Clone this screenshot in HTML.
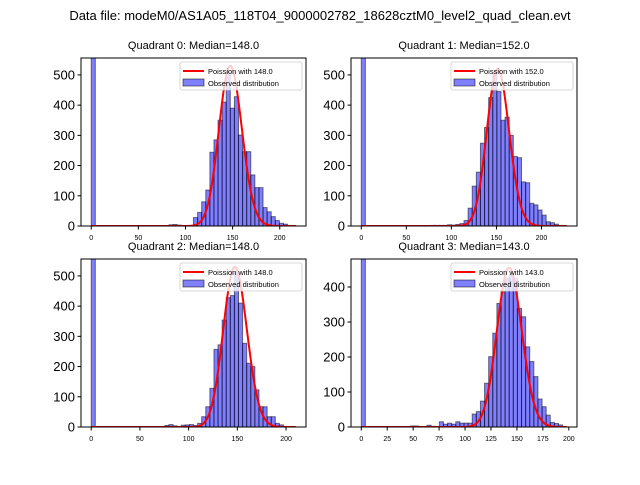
<!DOCTYPE html>
<html><head><meta charset="utf-8"><style>
body{margin:0;background:#fff;}
svg text{font-family:"Liberation Sans","DejaVu Sans",sans-serif;}
</style></head><body>
<svg id="fig" width="640" height="480" xmlns="http://www.w3.org/2000/svg">
<rect width="640" height="480" fill="#fff"/>
<text x="320" y="20" font-size="13" text-anchor="middle">Data file: modeM0/AS1A05_118T04_9000002782_18628cztM0_level2_quad_clean.evt</text>
</svg>
<script>
const quadNames = ["Quadrant 0","Quadrant 1","Quadrant 2","Quadrant 3"];
const medians = [148.0, 152.0, 148.0, 143.0];
const maxValues = [217, 228, 210, 198];
const curvePeaks = [530, 520, 530, 455];
const yTickVals01 = [0,100,200,300,400,500];
const yTickVals3 = [0,100,200,300,400];
const xTickVals = [0,50,100,150,200];
const xTickVals3 = [0,25,50,75,100,125,150,175,200];
const counts0 = [2000,0,0,0,0,0,0,0,0,0,0,0,0,0,0,0,0,0,0,4,5,3,0,0,0,28,45,80,119,244,285,350,410,510,390,428,301,246,246,169,127,127,61,47,31,18,9,6,2,1];
const counts1 = [2000,0,0,0,0,0,0,0,0,0,0,0,0,0,0,0,0,2,2,2,2,4,3,5,8,18,59,132,178,274,326,425,510,445,350,360,300,230,226,146,143,75,70,53,36,14,11,6,2,1];
const counts2 = [2000,0,0,0,0,0,0,0,0,0,0,0,0,0,0,0,0,0,5,8,4,0,6,7,8,5,12,34,67,128,257,272,354,428,435,515,410,277,211,200,123,67,67,34,34,12,7,1,0,0];
const counts3 = [2000,0,0,0,0,0,0,0,0,0,0,0,3,3,0,0,5,2,1,15,8,11,8,15,11,11,11,37,44,74,125,201,268,353,386,425,434,425,339,315,229,187,144,80,58,34,13,10,6,1];
const allCounts = [counts0, counts1, counts2, counts3];

const axBoxes = [[81,58,306,226],[351,58,577,226],[81,259,306,427],[351,259,577,427]];
const yMaxes = [556,556,556,480];
const NS = "http://www.w3.org/2000/svg";
const fig = document.getElementById('fig');
function mk(tag, attrs, parent){const e=document.createElementNS(NS,tag);for(const k in attrs)e.setAttribute(k,attrs[k]);(parent||fig).appendChild(e);return e;}

for(let q=0;q<4;q++){
  const [x0,y0,x1,y1]=axBoxes[q];
  const mx=maxValues[q], span=mx, xmin=-0.05*span, xmax=mx+0.05*span;
  const X=v=>x0+(v-xmin)/(xmax-xmin)*(x1-x0);
  const Y=v=>y1-v/yMaxes[q]*(y1-y0);
  const g=mk('g',{});
  
  
  const cp=mk('clipPath',{id:'cp'+q},g);
  mk('rect',{x:x0,y:y0,width:x1-x0,height:y1-y0},cp);
  const bars=mk('g',{'clip-path':'url(#cp'+q+')'},g);
  const counts=allCounts[q], bw=mx/counts.length;
  counts.forEach((c,i)=>{
    if(c<=0)return;
    const r=mk('rect',{x:X(i*bw),y:Y(c),width:X((i+1)*bw)-X(i*bw),height:Y(0)-Y(c),fill:'rgba(0,0,255,0.5)',stroke:'rgba(0,0,0,0.5)','stroke-width':1},bars);
    
    
  });
  // poisson curve
  const lam=medians[q], peak=curvePeaks[q];
  let pts=[];
  for(let k=0;k<=mx;k++){
    const lp=k*Math.log(lam)-lam-lgamma(k+1);
    const lp0=lam*Math.log(lam)-lam-lgamma(lam+1);
    pts.push(X(k).toFixed(2)+','+Y(peak*Math.exp(lp-lp0)).toFixed(2));
  }
  const pl=mk('polyline',{points:pts.join(' '),fill:'none',stroke:'#ff0000','stroke-width':2},bars);
  
  
  mk('rect',{x:x0,y:y0,width:x1-x0,height:y1-y0,fill:'none',stroke:'#000','stroke-width':1},g);
  const t=mk('text',{x:(x0+x1)/2,y:y0-9,'font-size':11,'text-anchor':'middle'},g);
  t.textContent=quadNames[q]+': Median='+medians[q].toFixed(1);
  
  
  const yt = q===3?yTickVals3:yTickVals01;
  yt.forEach(v=>{
    mk('line',{x1:x0-3.5,x2:x0,y1:Y(v),y2:Y(v),stroke:'#000'},g);
    const tt=mk('text',{x:x0-6,y:Y(v)+4.5,'font-size':13,'text-anchor':'end'},g);
    tt.textContent=v;
    
    
  });
  const xt = q===3?xTickVals3:xTickVals;
  xt.forEach(v=>{
    mk('line',{x1:X(v),x2:X(v),y1:y1,y2:y1+3.5,stroke:'#000'},g);
    const tt=mk('text',{x:X(v),y:y1+14,'font-size':7,'text-anchor':'middle'},g);
    tt.textContent=v;
    
    
  });
  // legend
  const lg=mk('g',{},g);
  
  
  const lx=x1-126, ly=y0+4;
  mk('rect',{x:lx,y:ly,width:122,height:28,rx:2,fill:'rgba(255,255,255,0.8)',stroke:'#ccc','stroke-width':0.8},lg);
  mk('line',{x1:lx+3,x2:lx+24,y1:ly+9,y2:ly+9,stroke:'#ff0000','stroke-width':2},lg);
  const l1=mk('text',{x:lx+28,y:ly+12,'font-size':7.5},lg);
  l1.textContent='Poission with '+medians[q].toFixed(1);
  mk('rect',{x:lx+3,y:ly+17,width:21,height:7,fill:'rgba(0,0,255,0.5)',stroke:'rgba(0,0,0,0.5)'},lg);
  const l2=mk('text',{x:lx+28,y:ly+24,'font-size':7.5},lg);
  l2.textContent='Observed distribution';
}
function lgamma(z){
  const c=[76.18009172947146,-86.50532032941677,24.01409824083091,-1.231739572450155,0.1208650973866179e-2,-0.5395239384953e-5];
  let x=z,y=z,tmp=x+5.5;tmp-=(x+0.5)*Math.log(tmp);let ser=1.000000000190015;
  for(let j=0;j<6;j++)ser+=c[j]/++y;
  return -tmp+Math.log(2.5066282746310005*ser/x);
}
</script>
</body></html>
